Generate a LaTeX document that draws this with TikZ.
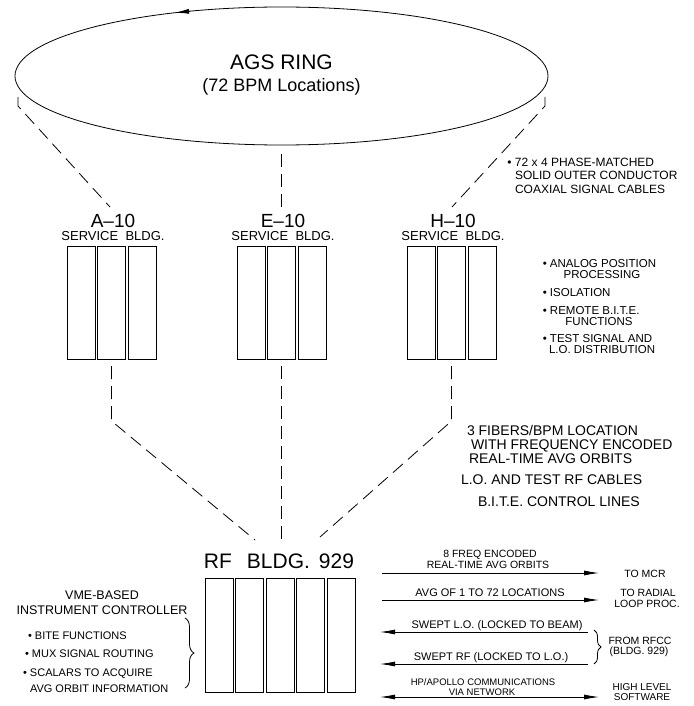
\documentclass[tikz,border=0pt]{standalone}
\usepackage{fontspec}
\setmainfont{Liberation Sans}
\usetikzlibrary{arrows.meta,decorations.pathreplacing,shapes.geometric}
\begin{document}
\begin{tikzpicture}[x=1pt,y=-1pt,
  every node/.style={inner sep=0pt,outer sep=0pt},
  txt/.style={font=\fontsize{#1}{#1}\selectfont},
  ln/.style={line width=0.8pt},
  dsh/.style={line width=0.8pt,dash pattern=on 13pt off 7pt},
  cell/.style={draw,line width=0.9pt,minimum width=28pt,minimum height=113pt},
  rfcell/.style={draw,line width=0.9pt,minimum width=28pt,minimum height=114pt},
  ringshape/.style={draw,ellipse,line width=0.8pt,minimum width=533pt,minimum height=138pt},
  arr/.style={line width=0.8pt,-{Latex[length=15pt,width=5pt]}},
  darr/.style={line width=0.8pt,{Latex[length=15pt,width=5pt]}-{Latex[length=15pt,width=5pt]}},
  brc/.style={line width=0.8pt,decorate,decoration={brace,amplitude=#1}}
]
\useasboundingbox (0,0) rectangle (693,706);

% ---- AGS ring ----
\node[ringshape] (ring) at (281.5,76) {};
\coordinate (ringtail) at (190,11.2);
\coordinate (ringtip) at (175,12.75);
\draw[line width=0.8pt,-{Latex[length=14pt,width=5pt]}] (ringtail) -- (ringtip);
\node[txt=21pt,anchor=base] (ags) at (281.5,70) {AGS RING};
\node[txt=18pt,anchor=base] (bpm) at (281.5,92) {(72 BPM Locations)};

% ---- service buildings ----
\foreach \n/\cx in {a/111.5,e/281.5,h/451.5}{
  \node[cell] (\n1) at (\cx-30.5,302.5) {};
  \node[cell] (\n2) at (\cx,302.5) {};
  \node[cell] (\n3) at (\cx+30.5,302.5) {};
}
\node[txt=19pt,anchor=base] (alab) at (113,227) {A--10};
\node[txt=19pt,anchor=base] (elab) at (283,227) {E--10};
\node[txt=19pt,anchor=base] (hlab) at (453,227) {H--10};
\node[txt=13pt,anchor=base] (asb) at (113,240.5) {SERVICE\ \ BLDG.};
\node[txt=13pt,anchor=base] (esb) at (283,240.5) {SERVICE\ \ BLDG.};
\node[txt=13pt,anchor=base] (hsb) at (453,240.5) {SERVICE\ \ BLDG.};

% ---- dashed links ring -> service buildings ----
\coordinate (ra0) at (18,97);   \coordinate (ra1) at (18,106);  \coordinate (ra2) at (110,207);
\coordinate (re0) at (281.5,154); \coordinate (re2) at (281.5,210);
\coordinate (rh0) at (545,97);  \coordinate (rh1) at (545,106); \coordinate (rh2) at (452,207);
\draw[dsh] (ra0) -- (ra1) -- (ra2);
\draw[dsh] (re0) -- (re2);
\draw[dsh] (rh0) -- (rh1) -- (rh2);

% ---- cable note ----
\node[txt=12pt,anchor=base west] (c1) at (515,166) {\llap{•\ }72 x 4 PHASE-MATCHED};
\node[txt=12pt,anchor=base west] (c2) at (515,179.5) {SOLID OUTER CONDUCTOR};
\node[txt=12pt,anchor=base west] (c3) at (515,193) {COAXIAL SIGNAL CABLES};

% ---- service building functions ----
\node[txt=11.5pt,anchor=base west] (f1) at (550,267) {\llap{•\ }ANALOG POSITION};
\node[txt=11.5pt,anchor=base] (f1b) at (602,278) {PROCESSING};
\node[txt=11.5pt,anchor=base west] (f2) at (550,296) {\llap{•\ }ISOLATION};
\node[txt=11.5pt,anchor=base west] (f3) at (550,314) {\llap{•\ }REMOTE B.I.T.E.};
\node[txt=11.5pt,anchor=base] (f3b) at (599,325) {FUNCTIONS};
\node[txt=11.5pt,anchor=base west] (f4) at (550,342.5) {\llap{•\ }TEST SIGNAL AND};
\node[txt=11.5pt,anchor=base west] (f4b) at (549,353) {L.O. DISTRIBUTION};

% ---- dashed links service buildings -> RF bldg ----
\coordinate (la0) at (111.5,366); \coordinate (la1) at (111.5,421); \coordinate (la2) at (255,540);
\coordinate (le0) at (281.5,366); \coordinate (le2) at (281.5,539);
\coordinate (lh0) at (451.5,366); \coordinate (lh1) at (451.5,421); \coordinate (lh2) at (320,537);
\draw[dsh] (la0) -- (la1) -- (la2);
\draw[dsh] (le0) -- (le2);
\draw[dsh] (lh0) -- (lh1) -- (lh2);

% ---- fiber note ----
\node[txt=14pt,anchor=base west] (n1) at (467,435) {3 FIBERS/BPM LOCATION};
\node[txt=14pt,anchor=base west] (n2) at (471,449) {WITH FREQUENCY ENCODED};
\node[txt=14pt,anchor=base west] (n3) at (469,463) {REAL-TIME AVG ORBITS};
\node[txt=14pt,anchor=base west] (n4) at (461,484) {L.O. AND TEST RF CABLES};
\node[txt=14pt,anchor=base west] (n5) at (478,506) {B.I.T.E. CONTROL LINES};

% ---- RF building ----
\node[txt=21pt,anchor=base] (rflab) at (279,568) {RF\hspace{15pt}BLDG.\hspace{9pt}929};
\foreach \i/\cx in {1/219,2/249.5,3/280,4/310.5,5/341}{
  \node[rfcell] (rf\i) at (\cx,635) {};
}

% ---- controller ----
\node[txt=12.5pt,anchor=base] (vme) at (102,599) {VME-BASED};
\node[txt=12.5pt,anchor=base] (ic) at (102,614) {INSTRUMENT CONTROLLER};
\node[txt=11pt,anchor=base west] (b1) at (35,639) {\llap{•\ }BITE FUNCTIONS};
\node[txt=11pt,anchor=base west] (b2) at (32,657) {\llap{•\ }MUX SIGNAL ROUTING};
\node[txt=11pt,anchor=base west] (b3) at (30,676) {\llap{•\ }SCALARS TO ACQUIRE};
\node[txt=11pt,anchor=base west] (b4) at (30,692) {AVG ORBIT INFORMATION};
\coordinate (lbt) at (185,618); \coordinate (lbb) at (185,688);
\draw[brc=9pt] (lbt) -- (lbb);

% ---- output / input lines ----
\coordinate (o1s) at (382,573); \coordinate (o1e) at (599,573);
\coordinate (o2s) at (382,600); \coordinate (o2e) at (599,600);
\coordinate (i1s) at (588,632); \coordinate (i1e) at (380,632);
\coordinate (i2s) at (588,664); \coordinate (i2e) at (380,664);
\coordinate (hs) at (380,697);  \coordinate (he) at (599,697);
\draw[arr] (o1s) -- (o1e);
\draw[arr] (o2s) -- (o2e);
\draw[arr] (i1s) -- (i1e);
\draw[arr] (i2s) -- (i2e);
\draw[darr] (hs) -- (he);

\node[txt=10.5pt,anchor=base] (t1a) at (490,557) {8 FREQ ENCODED};
\node[txt=10.5pt,anchor=base] (t1b) at (488,568) {REAL-TIME AVG ORBITS};
\node[txt=11pt,anchor=base] (t2) at (490,596) {AVG OF 1 TO 72 LOCATIONS};
\node[txt=11pt,anchor=base] (t3) at (497,628) {SWEPT L.O. (LOCKED TO BEAM)};
\node[txt=11pt,anchor=base] (t4) at (491,660) {SWEPT RF (LOCKED TO L.O.)};
\node[txt=9.5pt,anchor=base] (t5a) at (483,685.5) {HP/APOLLO COMMUNICATIONS};
\node[txt=9.5pt,anchor=base] (t5b) at (482,695) {VIA NETWORK};

\node[txt=10.5pt,anchor=base] (d1) at (645,577) {TO MCR};
\node[txt=10.5pt,anchor=base] (d2a) at (648,596) {TO RADIAL};
\node[txt=10.5pt,anchor=base] (d2b) at (647,607) {LOOP PROC.};
\node[txt=10.5pt,anchor=base] (d3a) at (640,644.5) {FROM RFCC};
\node[txt=10.5pt,anchor=base] (d3b) at (639,654.5) {(BLDG. 929)};
\node[txt=10pt,anchor=base] (d4a) at (642,690.5) {HIGH LEVEL};
\node[txt=10pt,anchor=base] (d4b) at (642,700) {SOFTWARE};
\coordinate (rbt) at (594,630); \coordinate (rbb) at (594,664);
\draw[brc=7pt] (rbt) -- (rbb);
\end{tikzpicture}
\end{document}
